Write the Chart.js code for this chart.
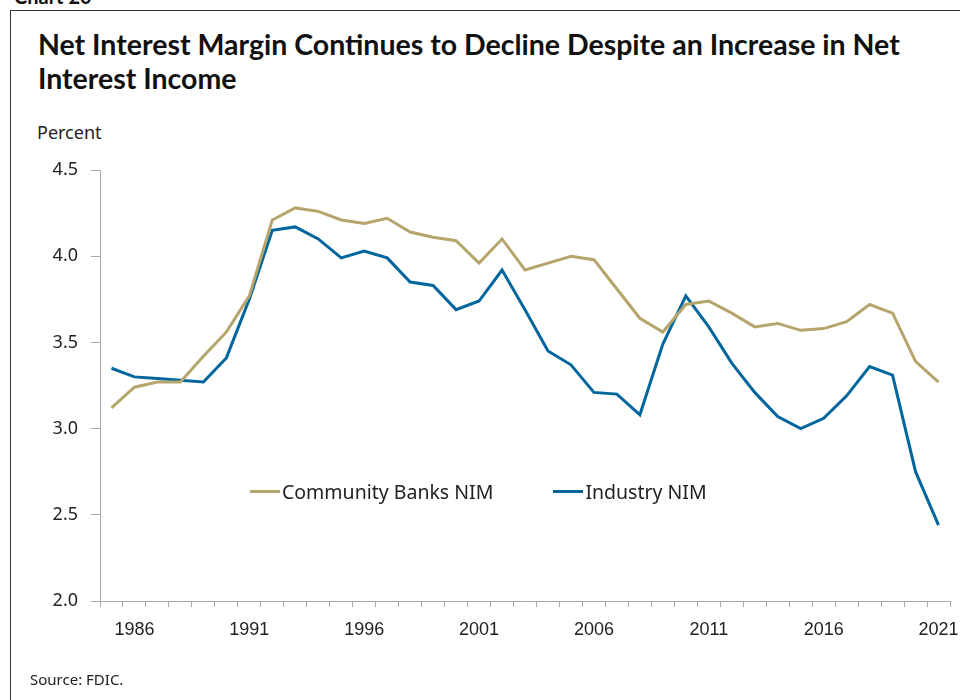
<!DOCTYPE html>
<html>
<head>
<meta charset="utf-8">
<script src="https://cdn.jsdelivr.net/npm/chart.js@4.4.1/dist/chart.umd.min.js"></script>
<style>
  html, body { margin: 0; padding: 0; background: #fff; }
  #wrap { position: relative; width: 960px; height: 700px; overflow: hidden; font-family: 'Noto Sans', sans-serif; }
  #frame { position: absolute; left: 10px; top: 10px; width: 960px; height: 700px; border-left: 1.5px solid #333; border-top: 1.5px solid #333; }
  #chartno { position: absolute; left: 14px; top: -16px; font: 700 20px Lato, sans-serif; color: #111; }
  #title { position: absolute; left: 38px; top: 27px; font: 700 28.5px Lato, sans-serif; line-height: 34px; color: #111; }
  #unit { position: absolute; left: 37px; top: 120px; font-size: 18px; color: #222; }
  #source { position: absolute; left: 30px; top: 669px; font-size: 15px; color: #222; }
  #legend { position: absolute; top: 478px; left: 250px; font-size: 19.5px; color: #222; display: flex; }
  #legend .item { display: flex; align-items: center; margin-right: 60px; }
  #legend .swatch { width: 30px; height: 3px; margin-right: 2px; }
  canvas { position: absolute; left: 0; top: 0; }
</style>
</head>
<body>
<div id="wrap">
  <div id="frame"></div>
  <div id="chartno">Chart 20</div>
  <div id="title">Net Interest Margin Continues to Decline Despite an Increase in Net<br>Interest Income</div>
  <div id="unit">Percent</div>
  <canvas id="myChart" width="960" height="700"></canvas>
  <div id="legend"></div>
  <div id="source">Source: FDIC.</div>
</div>
<script>
const years = ['1985', '1986', '1987', '1988', '1989', '1990', '1991', '1992', '1993', '1994',
  '1995', '1996', '1997', '1998', '1999', '2000', '2001', '2002', '2003', '2004',
  '2005', '2006', '2007', '2008', '2009', '2010', '2011', '2012', '2013', '2014',
  '2015', '2016', '2017', '2018', '2019', '2020', '2021']

const community_nim = [3.12, 3.24, 3.27, 3.27, 3.42, 3.56, 3.77, 4.21, 4.28, 4.26,
  4.21, 4.19, 4.22, 4.14, 4.11, 4.09, 3.96, 4.10, 3.92, 3.96,
  4.00, 3.98, 3.81, 3.64, 3.56, 3.72, 3.74, 3.67, 3.59, 3.61,
  3.57, 3.58, 3.62, 3.72, 3.67, 3.39, 3.27]

const industry_nim = [3.35, 3.30, 3.29, 3.28, 3.27, 3.41, 3.75, 4.15, 4.17, 4.10,
  3.99, 4.03, 3.99, 3.85, 3.83, 3.69, 3.74, 3.92, 3.69, 3.45,
  3.37, 3.21, 3.20, 3.08, 3.49, 3.77, 3.59, 3.38, 3.21, 3.07,
  3.00, 3.06, 3.19, 3.36, 3.31, 2.75, 2.44]

const x_labels = ['1986', '1991', '1996', '2001', '2006', '2011', '2016', '2021']
const y_ticks = [2.0, 2.5, 3.0, 3.5, 4.0, 4.5]

const cores = { community: '#b5a56c', industry: '#00669d', eixo: '#a8a8a8', texto: '#222' }

const datasets = [
  { label: 'Community Banks NIM', data: community_nim, borderColor: cores.community, backgroundColor: cores.community },
  { label: 'Industry NIM', data: industry_nim, borderColor: cores.industry, backgroundColor: cores.industry }
]

const App = {
    render_legend() {
        let legend = document.querySelector('#legend')
        legend.innerHTML = datasets.map(ds =>
            `<div class="item"><span class="swatch" style="background:${ds.borderColor}"></span>${ds.label}</div>`
        ).join('')
    },
    render_chart() {
        const ctx = document.getElementById('myChart').getContext('2d')
        new Chart(ctx, {
            type: 'line',
            data: {
                labels: years,
                datasets: datasets.map(ds => ({ ...ds, borderWidth: 3, pointRadius: 0, tension: 0 }))
            },
            options: {
                responsive: false,
                animation: false,
                layout: { padding: { top: 170, right: 10, left: 0, bottom: 0 } },
                plugins: { legend: { display: false }, tooltip: { enabled: false } },
                scales: {
                    x: {
                        offset: true,
                        grid: { offset: true, drawOnChartArea: false, color: cores.eixo, tickLength: 6 },
                        border: { color: cores.eixo, width: 1 },
                        ticks: {
                            autoSkip: false,
                            maxRotation: 0,
                            padding: 12,
                            color: cores.texto,
                            font: { family: 'Liberation Sans', size: 18 },
                            callback: (v, i) => x_labels.includes(years[i]) ? years[i] : ''
                        },
                        afterFit: scale => {
                            scale.height = 99
                            scale.paddingLeft = 0
                            scale.paddingRight = 0
                        }
                    },
                    y: {
                        min: y_ticks[0],
                        max: y_ticks[y_ticks.length - 1],
                        afterBuildTicks: scale => { scale.ticks = y_ticks.map(v => ({ value: v })) },
                        grid: { drawOnChartArea: false, color: cores.eixo, tickLength: 9 },
                        border: { color: cores.eixo, width: 1 },
                        ticks: {
                            padding: 13,
                            color: cores.texto,
                            font: { family: 'Noto Sans', size: 18 },
                            callback: v => v.toFixed(1)
                        },
                        afterFit: scale => {
                            scale.width = 100
                            scale.paddingTop = 0
                            scale.paddingBottom = 0
                        }
                    }
                }
            }
        })
    }
}

App.render_legend()
App.render_chart()
</script>
</body>
</html>
